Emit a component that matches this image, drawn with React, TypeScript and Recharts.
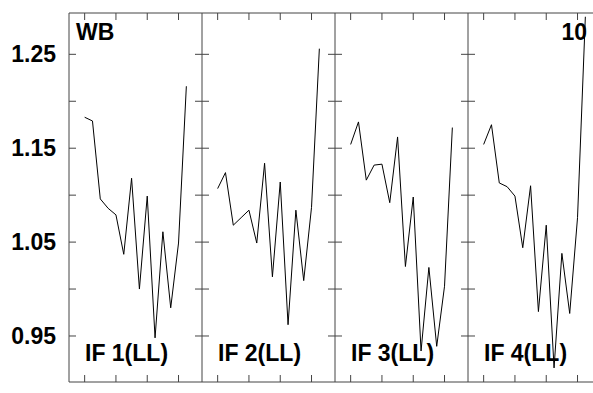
import React from 'react';
import { LineChart, Line, XAxis, YAxis } from 'recharts';

const indices = [0, 1, 2, 3, 4, 5, 6, 7, 8, 9, 10, 11, 12, 13];
const panelLabels = ['IF 1(LL)', 'IF 2(LL)', 'IF 3(LL)', 'IF 4(LL)'];
const if1 = [1.183, 1.179, 1.096, 1.086, 1.079, 1.037, 1.118, 1.0, 1.099, 0.948, 1.061, 0.98, 1.049, 1.216];
const if2 = [1.107, 1.124, 1.068, 1.076, 1.084, 1.049, 1.134, 1.013, 1.114, 0.962, 1.084, 1.009, 1.087, 1.256];
const if3 = [1.154, 1.178, 1.116, 1.132, 1.133, 1.092, 1.162, 1.024, 1.098, 0.934, 1.023, 0.939, 1.003, 1.172];
const if4 = [1.154, 1.175, 1.113, 1.109, 1.099, 1.044, 1.11, 0.976, 1.068, 0.916, 1.038, 0.974, 1.076, 1.29];
const seriesList = [if1, if2, if3, if4];
const yLabelTicks = [0.95, 1.05, 1.15, 1.25];
const yTicks = [0.95, 1.0, 1.05, 1.1, 1.15, 1.2, 1.25];
const xTicks = [0, 4, 8, 12];
const yDomain: [number, number] = [0.901, 1.294];
const xDomain: [number, number] = [-2, 15];

const FRAME = '#444';
const FONT = '"Liberation Sans", Arial, sans-serif';
const FS = 23;
const PANEL_W = 133;
const PLOT_LEFT = 69;
const LABEL_W = 69;

function Panel({ values, index }: { values: number[]; index: number }) {
  const showLabels = index === 0;
  const lw = showLabels ? LABEL_W : 0;
  const data = indices.map((x, i) => ({ x, v: values[i] }));
  const left = PLOT_LEFT + index * PANEL_W - lw;
  return (
    <div style={{ position: 'absolute', left, top: 0 }}>
      <LineChart width={PANEL_W + lw} height={393} data={data} margin={{ top: 13, right: 0, bottom: 11, left: 0 }}>
        <XAxis xAxisId="b" dataKey="x" type="number" domain={xDomain} allowDataOverflow ticks={xTicks} interval={0}
          orientation="bottom" mirror tickSize={7} tickFormatter={() => ''} stroke={FRAME} />
        <XAxis xAxisId="t" dataKey="x" type="number" domain={xDomain} allowDataOverflow ticks={xTicks} interval={0}
          orientation="top" mirror tickSize={7} tickFormatter={() => ''} stroke={FRAME} />
        {showLabels && (
          <YAxis yAxisId="lab" orientation="left" width={LABEL_W} type="number" domain={yDomain} allowDataOverflow
            ticks={yLabelTicks} interval={0} axisLine={false} tickLine={false} tickSize={0} tickMargin={13}
            tickFormatter={(v: number) => v.toFixed(2)}
            tick={{ fontSize: FS, fontWeight: 'bold', fill: '#000', fontFamily: FONT }} />
        )}
        <YAxis yAxisId="l" orientation="left" mirror type="number" domain={yDomain} allowDataOverflow
          ticks={yTicks} interval={0} tickSize={7} tickFormatter={() => ''} stroke={FRAME} />
        <YAxis yAxisId="r" orientation="right" mirror type="number" domain={yDomain} allowDataOverflow
          ticks={yTicks} interval={0} tickSize={7} tickFormatter={() => ''} stroke={FRAME} />
        <Line xAxisId="b" yAxisId="l" dataKey="v" stroke="#000" strokeWidth={1} dot={false}
          isAnimationActive={false} type="linear" />
      </LineChart>
    </div>
  );
}

export default function App() {
  return (
    <div style={{ position: 'fixed', left: 0, top: 0, width: 593, height: 393, overflow: 'hidden', background: '#fff' }}>
      {seriesList.map((s, k) => (
        <Panel key={k} values={s} index={k} />
      ))}
      <svg width={593} height={393} style={{ position: 'absolute', left: 0, top: 0, pointerEvents: 'none' }}>
        <text x={76} y={40} fontSize={FS} fontWeight="bold" fontFamily={FONT} fill="#000">WB</text>
        <text x={587} y={40} fontSize={FS} fontWeight="bold" fontFamily={FONT} fill="#000" textAnchor="end">10</text>
        {panelLabels.map((t, k) => (
          <text key={t} x={PLOT_LEFT + k * PANEL_W + 16} y={361} fontSize={FS} fontWeight="bold" fontFamily={FONT} fill="#000">
            {t}
          </text>
        ))}
      </svg>
    </div>
  );
}
